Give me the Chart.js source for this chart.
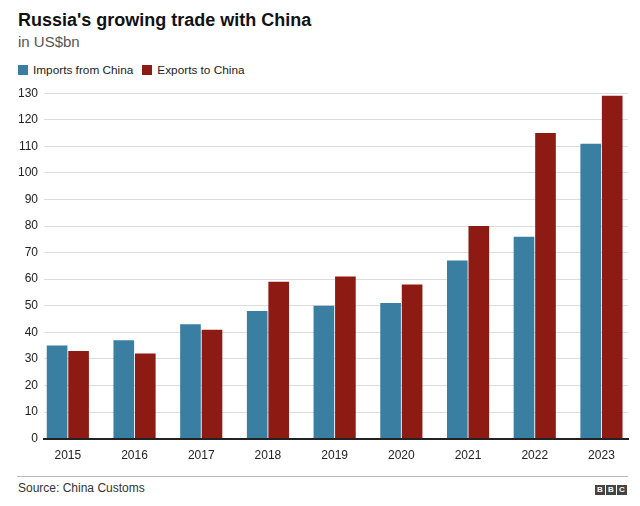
<!DOCTYPE html>
<html>
<head>
<meta charset="utf-8">
<script src="https://cdn.jsdelivr.net/npm/chart.js@4"></script>
<style>
  html, body { margin: 0; padding: 0; background: #fff; }
  body { width: 640px; height: 506px; position: relative; overflow: hidden;
         font-family: "Liberation Sans", Arial, Helvetica, sans-serif; }
  #title { position: absolute; left: 18px; top: 10px; font-size: 18px; font-weight: bold; color: #111; white-space: nowrap; }
  #subtitle { position: absolute; left: 18px; top: 33px; font-size: 15px; color: #555; white-space: nowrap; }
  #legend { position: absolute; left: 18px; top: 63px; font-size: 11.8px; color: #222; white-space: nowrap; }
  #legend .item { display: inline-block; margin-right: 9px; }
  #legend .sw { display: inline-block; width: 10px; height: 10px; vertical-align: -1px; margin-right: 5px; }
  #wrap { position: absolute; left: 0; top: 80px; width: 640px; height: 393px; }
  #rule { position: absolute; left: 17px; top: 476px; width: 611px; height: 1px; background: #bbb; }
  #source { position: absolute; left: 18px; top: 481px; font-size: 12px; color: #333; white-space: nowrap; }
  #bbc { position: absolute; left: 595px; top: 485px; height: 10px; }
  #bbc span { display: inline-block; width: 10px; height: 10px; background: #444; color: #fff; font-size: 8px; font-weight: bold;
              line-height: 10px; text-align: center; margin-right: 1px; vertical-align: top; }
</style>
</head>
<body>
<div id="title">Russia's growing trade with China</div>
<div id="subtitle">in US$bn</div>
<div id="legend"></div>
<div id="wrap"><canvas id="c"></canvas></div>
<div id="rule"></div>
<div id="source">Source: China Customs</div>
<div id="bbc"><span>B</span><span>B</span><span>C</span></div>
<script>
const years = ['2015','2016','2017','2018','2019','2020','2021','2022','2023'];
const importsFromChina = [35, 37, 43, 48, 50, 51, 67, 76, 111];
const exportsToChina   = [33, 32, 41, 59, 61, 58, 80, 115, 129];
const seriesNames = ['Imports from China', 'Exports to China'];
const seriesColors = ['#3a7ea1', '#8e1b13'];
const yTicks = [0,10,20,30,40,50,60,70,80,90,100,110,120,130];

const legend = document.getElementById('legend');
seriesNames.forEach((n, i) => {
  const it = document.createElement('span');
  it.className = 'item';
  it.innerHTML = '<span class="sw" style="background:' + seriesColors[i] + '"></span>' + n;
  legend.appendChild(it);
});

const toPts = arr => arr.map((v, i) => ({ x: i, y: v }));

new Chart(document.getElementById('c'), {
  type: 'bar',
  data: {
    datasets: [
      { label: seriesNames[0], data: toPts(importsFromChina), backgroundColor: seriesColors[0] },
      { label: seriesNames[1], data: toPts(exportsToChina), backgroundColor: seriesColors[1] }
    ]
  },
  options: {
    responsive: true,
    maintainAspectRatio: false,
    animation: false,
    layout: { padding: { left: 12, right: 12, top: 12, bottom: 0 } },
    plugins: { legend: { display: false }, tooltip: { enabled: false } },
    datasets: { bar: { categoryPercentage: 0.645, barPercentage: 0.96 } },
    scales: {
      x: {
        type: 'linear',
        min: -0.357,
        max: 8.398,
        offset: false,
        z: 1,
        grid: { display: false, drawTicks: false },
        border: { display: true, color: '#222', width: 2 },
        afterBuildTicks: s => { s.ticks = years.map((_, i) => ({ value: i })); },
        ticks: {
          autoSkip: false,
          maxRotation: 0,
          padding: 10,
          color: '#222',
          font: { family: '"Liberation Sans", Arial, sans-serif', size: 12 },
          callback: v => years[v] ?? ''
        }
      },
      y: {
        min: 0,
        max: 130,
        afterBuildTicks: s => { s.ticks = yTicks.map(v => ({ value: v })); },
        grid: { color: '#dcdcdc', lineWidth: 1, drawTicks: false },
        border: { display: false },
        ticks: {
          padding: 6,
          color: '#222',
          font: { family: '"Liberation Sans", Arial, sans-serif', size: 12 }
        }
      }
    }
  }
});
</script>
</body>
</html>
